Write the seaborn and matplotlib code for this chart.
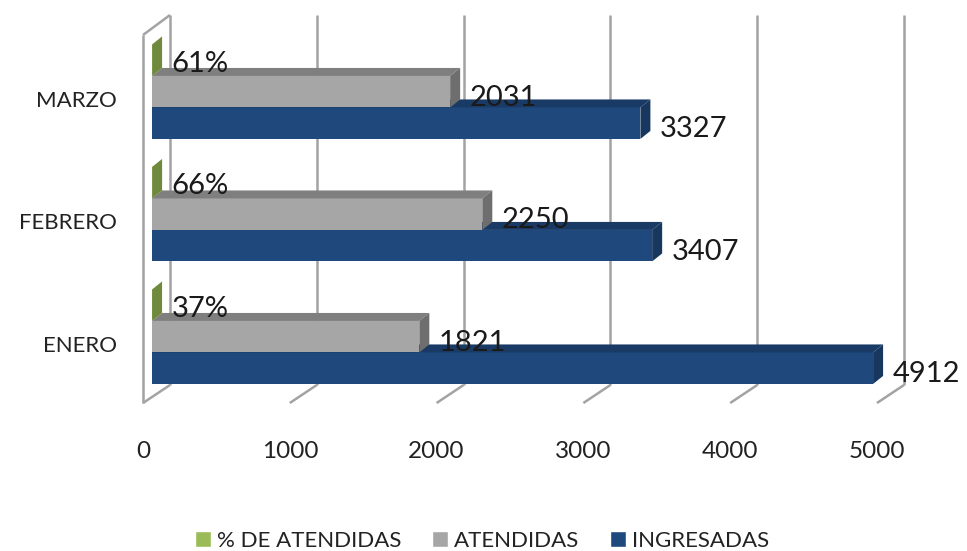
import pandas as pd
import matplotlib
matplotlib.use('Agg')
import matplotlib.pyplot as plt
from matplotlib.patches import Polygon
from matplotlib.transforms import ScaledTranslation
import seaborn as sns

# data
meses = ['MARZO', 'FEBRERO', 'ENERO']
series = ['% DE ATENDIDAS', 'ATENDIDAS', 'INGRESADAS']
pct_atendidas = [0.61, 0.66, 0.37]
atendidas = [2031, 2250, 1821]
ingresadas = [3327, 3407, 4912]
x_ticks = [0, 1000, 2000, 3000, 4000, 5000]

colores = ['#9BBB59', '#A6A6A6', '#1F497D']
colores_top = ['#7F9A45', '#7F7F7F', '#1A3A66']
colores_side = ['#6F8A3D', '#6E6E6E', '#17375E']

df = pd.concat([
    pd.DataFrame({'mes': meses, 'serie': series[0], 'valor': pct_atendidas}),
    pd.DataFrame({'mes': meses, 'serie': series[1], 'valor': atendidas}),
    pd.DataFrame({'mes': meses, 'serie': series[2], 'valor': ingresadas}),
])

sns.set_theme(style='white')
plt.rcParams['font.family'] = ['Lato', 'DejaVu Sans']

W, H = 967, 551
fig = plt.figure(figsize=(W / 100, H / 100), dpi=100)
ax = fig.add_axes([143 / W, (H - 403) / H, (905 - 143) / W, (403 - 15) / H])

sns.barplot(data=df, y='mes', x='valor', hue='serie', order=meses, hue_order=series,
            palette=colores, saturation=1, width=0.771, gap=0, ax=ax)

# pixel scales of the fake 3d box
px_x = 0.1468   # px per unit
px_y = 122.5    # px per category
ax.set_xlim(-9 / px_x, (905 - 152) / px_x)
ax.set_ylim((403 - 91.7) / px_y, (15 - 91.7) / px_y)
dx, dy = 10 / px_x, 8 / px_y   # bar depth
y_top, y_floor = ax.get_ylim()[1], ax.get_ylim()[0]
back_dx = 18 / px_x
floor_dy = 18 / px_y
front_dx = -9 / px_x

# walls and gridlines
grid_kw = dict(color='#A3A3A3', lw=1.8, clip_on=False, zorder=1, solid_capstyle='butt')
for t in x_ticks:
    ax.plot([t + back_dx, t + back_dx], [y_top, y_floor - floor_dy], **grid_kw)
    ax.plot([t + back_dx, t + front_dx], [y_floor - floor_dy, y_floor], **grid_kw)
ax.plot([front_dx, front_dx], [y_floor, y_top + 20 / px_y], **grid_kw)
ax.plot([front_dx, back_dx], [y_top + 20 / px_y, y_top], **grid_kw)

# bar faces, labels
zorders = [5, 4, 3]
for i, cont in enumerate(ax.containers):
    z = zorders[i]
    for bar, mes in zip(cont, meses):
        bar.set_zorder(z)
        bar.set_edgecolor('none')
        x1 = bar.get_x() + bar.get_width()
        y0 = bar.get_y()
        y1 = y0 + bar.get_height()
        ax.add_patch(Polygon([(0, y0), (x1, y0), (x1 + dx, y0 - dy), (dx, y0 - dy)],
                             facecolor=colores_top[i], edgecolor='none', zorder=z))
        ax.add_patch(Polygon([(x1, y0), (x1 + dx, y0 - dy), (x1 + dx, y1 - dy), (x1, y1)],
                             facecolor=colores_side[i], edgecolor='none', zorder=z))
        val = bar.get_width()
        txt = f'{val:.0%}' if i == 0 else f'{val:.0f}'
        off = -2.5 if i == 0 else -4.5
        ax.annotate(txt, (x1, y0 + bar.get_height() / 2), xytext=(14, off),
                    textcoords='offset points', va='center', ha='left',
                    fontsize=21, color='#1A1A1A', zorder=8)

# axes text
sns.despine(ax=ax, left=True, bottom=True)
ax.set_xlabel('')
ax.set_ylabel('')
ax.grid(False)
ax.set_xticks(x_ticks)
ax.set_xticklabels([str(t) for t in x_ticks])
ax.tick_params(axis='x', length=0, pad=27.5, labelsize=17.5, labelcolor='#222222')
ax.tick_params(axis='y', length=0, pad=19, labelsize=16, labelcolor='#222222')
for lab in ax.get_xticklabels():
    lab.set_transform(lab.get_transform() + ScaledTranslation(-9 / 100, 0, fig.dpi_scale_trans))
for lab in ax.get_yticklabels():
    lab.set_transform(lab.get_transform() + ScaledTranslation(0, -7 / 100, fig.dpi_scale_trans))

ax.legend(loc='center', bbox_to_anchor=(482 / W, (H - 541) / H), bbox_transform=fig.transFigure,
          ncol=3, frameon=False, fontsize=16, handlelength=0.72, handleheight=0.72,
          handletextpad=0.3, columnspacing=1.35, borderpad=0, labelcolor='#222222')

fig.savefig('out.png', dpi=100)
